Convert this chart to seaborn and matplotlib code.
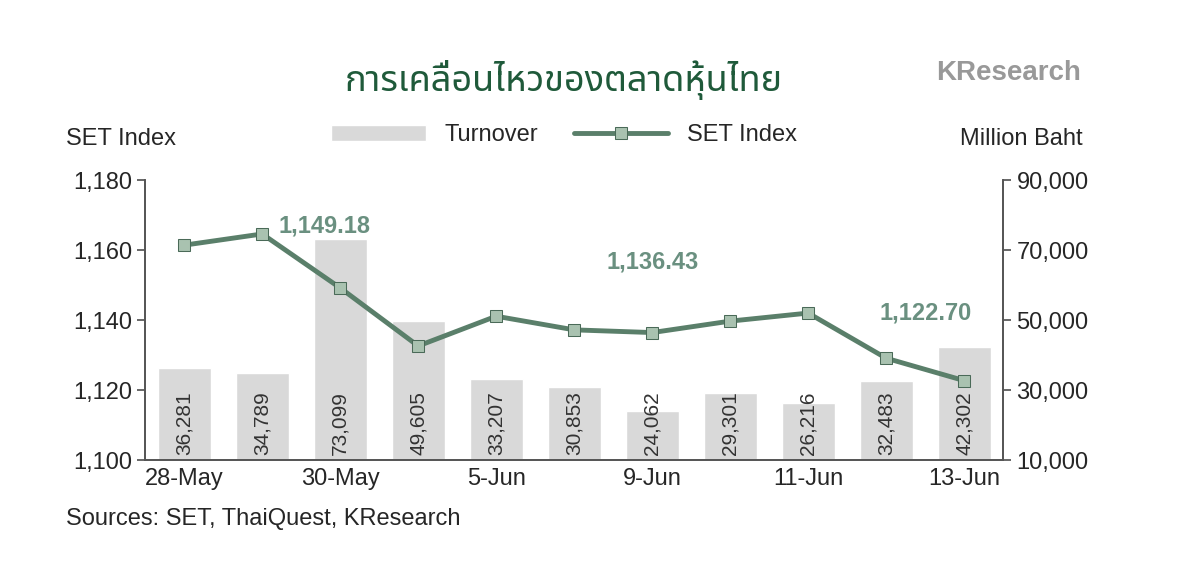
import matplotlib
matplotlib.use("Agg")
import matplotlib.pyplot as plt
import seaborn as sns
import numpy as np
import pandas as pd

sns.set_theme(style="white")
plt.rcParams['font.family'] = ['Liberation Sans', 'DejaVu Sans', 'Noto Sans']

dates = ["28-May", "29-May", "30-May", "2-Jun", "5-Jun", "6-Jun", "9-Jun", "10-Jun", "11-Jun", "12-Jun", "13-Jun"]
tick_labels = ["28-May", "", "30-May", "", "5-Jun", "", "9-Jun", "", "11-Jun", "", "13-Jun"]
turnover = [36281, 34789, 73099, 49605, 33207, 30853, 24062, 29301, 26216, 32483, 42302]
set_index = [1161.4, 1164.6, 1149.18, 1132.6, 1141.1, 1137.2, 1136.43, 1139.7, 1142.0, 1129.1, 1122.70]
annot_idx = [2, 6, 10]

df = pd.DataFrame({"date": dates, "turnover": turnover, "set": set_index})
x = np.arange(len(dates))

fig = plt.figure(figsize=(12, 5.68), dpi=100)
ax = fig.add_axes([0.121, 0.19, 0.715, 0.493])
ax2 = ax.twinx()

ax2.bar(x, [t - 10000 for t in turnover], bottom=10000, width=0.68, color="#d9d9d9", label="Turnover")
for i, t in enumerate(turnover):
    ax2.text(i, 10000 + 1500, f"{t:,}", rotation=90, ha="center", va="bottom", fontsize=15, color="#333333")
ax2.set_ylim(10000, 90000)
ax2.set_yticks(range(10000, 90001, 20000))
ax2.set_yticklabels([f"{v:,}" for v in range(10000, 90001, 20000)], fontsize=17)

ax.set_zorder(ax2.get_zorder() + 1)
ax.patch.set_visible(False)
sns.lineplot(data=df, x=x, y="set", ax=ax, color="#5a7f6a", linewidth=3.5, marker="s",
             markersize=9, markerfacecolor="#a9c2b0", markeredgecolor="#4a6a58", label="SET Index", legend=False)
ax.set_ylim(1100, 1180)
ax.set_yticks(range(1100, 1181, 20))
ax.set_yticklabels([f"{v:,}" for v in range(1100, 1181, 20)], fontsize=17)
ax.set_xlim(-0.5, len(dates) - 0.5)
ax.set_xticks(x)
ax.set_xticklabels(tick_labels, fontsize=17)
ax.set_xticks(np.arange(-0.5, len(dates), 1), minor=True)
ax.tick_params(axis="x", which="major", length=0, pad=6)
ax.tick_params(axis="x", which="minor", length=6, color="#555555", direction="out")
ax.tick_params(axis="y", length=6, color="#555555", direction="out", left=True)
ax2.tick_params(axis="y", length=6, color="#555555", direction="out", right=True)
ax.set_xlabel("")
ax.set_ylabel("")

offs = {2: (-0.2, 14.5), 6: (0, 17), 10: (-0.5, 16)}
for i in annot_idx:
    dx, dy = offs[i]
    ax.text(i + dx, set_index[i] + dy, f"{set_index[i]:,.2f}", ha="center", va="bottom",
            fontsize=17, fontweight="bold", color="#6a9080")

for a in (ax, ax2):
    a.spines["top"].set_visible(False)
    for s in ["left", "right", "bottom"]:
        a.spines[s].set_color("#555555")

fig.text(0.47, 0.84, "การเคลื่อนไหวของตลาดหุ้นไทย", ha="center", fontsize=26, fontweight="bold",
         color="#1f5a3a", family=['Noto Sans Thai', 'Noto Sans', 'DejaVu Sans'])
fig.text(0.78, 0.86, "KResearch", fontsize=20, fontweight="bold", color="#999999")
fig.text(0.055, 0.745, "SET Index", fontsize=17)
fig.text(0.80, 0.745, "Million Baht", fontsize=17)
fig.text(0.055, 0.075, "Sources: SET, ThaiQuest, KResearch", fontsize=17)

h1, l1 = ax2.get_legend_handles_labels()
h2, l2 = ax.get_legend_handles_labels()
fig.legend(h1 + h2, l1 + l2, loc="center", bbox_to_anchor=(0.47, 0.762), ncol=2, frameon=False,
           fontsize=17, handlelength=4, columnspacing=1.5)

fig.savefig("out.png", dpi=100)
